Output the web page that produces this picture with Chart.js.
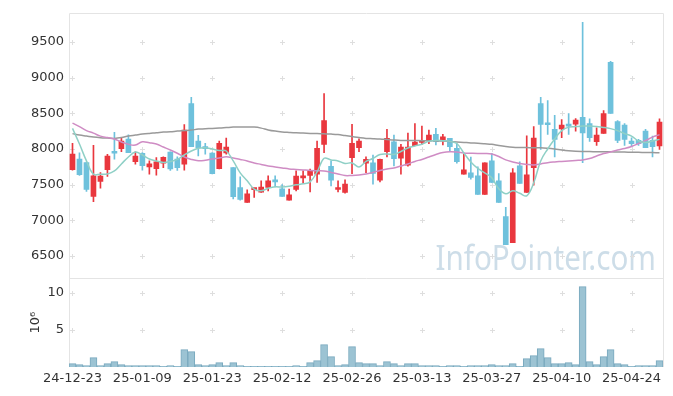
<!DOCTYPE html>
<html>
<head>
<meta charset="utf-8">
<title>Price Chart</title>
<script src="https://cdn.jsdelivr.net/npm/chart.js@4.4.1/dist/chart.umd.min.js"></script>
<style>
    html, body { margin: 0; padding: 0; background: #ffffff; }
    #wrap { width: 673px; height: 396px; }
</style>
</head>
<body>
<div id="wrap"><canvas id="stockChart" width="673" height="396"></canvas></div>
<script>
// Chart data

const dates = [
    '24-12-23', '24-12-24', '24-12-26', '24-12-27', '24-12-30', '25-01-02', '25-01-03', '25-01-06', '25-01-07', '25-01-08',
    '25-01-09', '25-01-10', '25-01-13', '25-01-14', '25-01-15', '25-01-16', '25-01-17', '25-01-20', '25-01-21', '25-01-22',
    '25-01-23', '25-01-24', '25-01-31', '25-02-03', '25-02-04', '25-02-05', '25-02-06', '25-02-07', '25-02-10', '25-02-11',
    '25-02-12', '25-02-13', '25-02-14', '25-02-17', '25-02-18', '25-02-19', '25-02-20', '25-02-21', '25-02-24', '25-02-25',
    '25-02-26', '25-02-27', '25-02-28', '25-03-04', '25-03-05', '25-03-06', '25-03-07', '25-03-10', '25-03-11', '25-03-12',
    '25-03-13', '25-03-14', '25-03-17', '25-03-18', '25-03-19', '25-03-20', '25-03-21', '25-03-24', '25-03-25', '25-03-26',
    '25-03-27', '25-03-28', '25-03-31', '25-04-01', '25-04-02', '25-04-03', '25-04-04', '25-04-07', '25-04-08', '25-04-09',
    '25-04-10', '25-04-11', '25-04-14', '25-04-15', '25-04-16', '25-04-17', '25-04-18', '25-04-21', '25-04-22', '25-04-23',
    '25-04-24', '25-04-25', '25-04-28', '25-04-29', '25-04-30'
];

const opens = [
    7711, 7860, 7809, 7335, 7544, 7711, 7950, 8004, 8140, 7823,
    7940, 7749, 7725, 7800, 7958, 7860, 7787, 8637, 8112, 8015,
    7944, 7725, 7944, 7739, 7460, 7251, 7430, 7396, 7460, 7560,
    7442, 7284, 7432, 7596, 7628, 7647, 8066, 7758, 7432, 7390,
    7879, 8018, 7800, 7805, 7563, 7962, 8102, 7870, 7772, 8046,
    8093, 8112, 8205, 8130, 8149, 8010, 7647, 7665, 7623, 7363,
    7833, 7554, 7051, 6685, 7763, 7391, 7739, 8637, 8363, 8275,
    8283, 8350, 8349, 8446, 8358, 8102, 8219, 9214, 8386, 8335,
    8112, 8121, 8251, 8121, 8042
];

const highs = [
    8080, 7948, 7818, 8052, 7669, 7926, 8233, 8158, 8200, 7962,
    7950, 7833, 7879, 7890, 7960, 7890, 8344, 8725, 8191, 8080,
    7950, 8112, 8153, 7739, 7609, 7428, 7438, 7554, 7623, 7623,
    7502, 7438, 7693, 7693, 7717, 8112, 8777, 7833, 7554, 7567,
    8345, 8144, 7890, 7916, 7860, 8275, 8195, 8066, 8223, 8358,
    8321, 8265, 8289, 8205, 8150, 8074, 7926, 7888, 7749, 7805,
    7940, 7656, 7181, 7725, 7819, 8186, 8316, 8725, 8680, 8474,
    8414, 8498, 8428, 9776, 8423, 8297, 8540, 9228, 8400, 8358,
    8158, 8135, 8275, 8180, 8423
];

const lows = [
    7703, 7630, 7404, 7261, 7452, 7614, 7856, 7962, 7948, 7787,
    7703, 7647, 7633, 7739, 7700, 7700, 7703, 8032, 7902, 7926,
    7650, 7720, 7926, 7300, 7284, 7251, 7320, 7390, 7414, 7470,
    7335, 7284, 7414, 7522, 7400, 7530, 7948, 7484, 7400, 7382,
    7656, 7962, 7670, 7508, 7540, 7888, 7763, 7647, 7760, 8046,
    8066, 8074, 8056, 8056, 7972, 7800, 7647, 7577, 7363, 7363,
    7530, 7251, 6657, 6685, 7516, 7391, 7493, 7995, 8205, 7888,
    8158, 8205, 8251, 7809, 8107, 8052, 8219, 8498, 8088, 8052,
    8042, 8050, 8018, 7888, 7995
];

const closes = [
    7930, 7641, 7432, 7623, 7619, 7902, 7940, 8112, 7948, 7902,
    7767, 7791, 7819, 7884, 7720, 7740, 8265, 8032, 8018, 8005,
    7656, 8080, 8028, 7330, 7293, 7372, 7438, 7466, 7554, 7540,
    7335, 7358, 7619, 7623, 7693, 8010, 8400, 7563, 7460, 7507,
    8080, 8112, 7856, 7656, 7856, 8149, 7865, 8028, 8028, 8098,
    8112, 8195, 8102, 8172, 8032, 7823, 7707, 7600, 7363, 7805,
    7530, 7251, 6657, 7665, 7516, 7637, 8153, 8344, 8340, 8135,
    8335, 8321, 8405, 8227, 8158, 8195, 8498, 8498, 8121, 8135,
    8074, 8074, 8018, 8032, 8377
];

// moving averages (short / mid / long)
const maShort = [
    8289, 8070, 7833, 7647, 7647, 7651, 7693, 7791, 7888, 7958,
    7916, 7860, 7833, 7812, 7826, 7854, 7916, 7972, 8010, 8018,
    8000, 7979, 7972, 7833, 7665, 7554, 7438, 7414, 7449, 7470,
    7466, 7477, 7498, 7512, 7540, 7679, 7870, 7847, 7833, 7798,
    7805, 7749, 7826, 7867, 7923, 7930, 7923, 7965, 8014, 8042,
    8066, 8107, 8121, 8116, 8107, 8077, 7944, 7819, 7728, 7665,
    7596, 7442, 7372, 7414, 7379, 7344, 7526, 7833, 8000, 8140,
    8258, 8307, 8314, 8321, 8321, 8314, 8303, 8286, 8258, 8216,
    8181, 8112, 8091, 8112, 8135
];

const maMid = [
    8363, 8314, 8258, 8223, 8181, 8160, 8140, 8098, 8066, 8056,
    8102, 8088, 8070, 8028, 7986, 7940, 7888, 7854, 7835, 7842,
    7860, 7874, 7891, 7874, 7854, 7833, 7805, 7784, 7763, 7749,
    7735, 7721, 7714, 7707, 7700, 7696, 7693, 7672, 7651, 7628,
    7630, 7637, 7651, 7672, 7700, 7721, 7735, 7763, 7791, 7826,
    7854, 7888, 7923, 7951, 7962, 7958, 7944, 7940, 7937, 7937,
    7930, 7895, 7847, 7819, 7798, 7784, 7777, 7791, 7809, 7819,
    7826, 7833, 7840, 7847, 7867, 7902, 7937, 7958, 7986, 8007,
    8035, 8077, 8119, 8167, 8202
];

const maLong = [
    8216, 8195, 8181, 8167, 8158, 8153, 8149, 8160, 8181, 8195,
    8209, 8219, 8227, 8237, 8241, 8251, 8258, 8265, 8279, 8283,
    8289, 8293, 8300, 8307, 8307, 8307, 8307, 8293, 8268, 8251,
    8240, 8233, 8227, 8223, 8219, 8216, 8213, 8209, 8202, 8188,
    8174, 8160, 8149, 8145, 8140, 8133, 8126, 8121, 8120, 8119,
    8117, 8116, 8114, 8112, 8107, 8100, 8093, 8086, 8081, 8074,
    8066, 8049, 8035, 8025, 8021, 8020, 8018, 8018, 8011, 8000,
    7986, 7975, 7968, 7965, 7964, 7962, 7961, 7960, 7958, 7957,
    7955, 7954, 7951, 7950, 7948
];

// volume in millions of shares
const volumes = [
    0.45, 0.32, 0.18, 1.26, 0.18, 0.45, 0.72, 0.32, 0.20, 0.20,
    0.20, 0.20, 0.20, 0.08, 0.20, 0.08, 2.34, 2.07, 0.32, 0.20,
    0.32, 0.59, 0.20, 0.59, 0.20, 0.08, 0.08, 0.08, 0.08, 0.08,
    0.08, 0.08, 0.18, 0.08, 0.59, 0.86, 3.00, 1.40, 0.18, 0.32,
    2.74, 0.59, 0.45, 0.45, 0.18, 0.72, 0.45, 0.18, 0.45, 0.45,
    0.18, 0.18, 0.18, 0.08, 0.18, 0.18, 0.08, 0.18, 0.18, 0.18,
    0.32, 0.18, 0.18, 0.45, 0.08, 1.13, 1.53, 2.47, 1.26, 0.45,
    0.45, 0.59, 0.32, 10.80, 0.72, 0.32, 1.40, 2.34, 0.45, 0.32,
    0.08, 0.18, 0.18, 0.18, 0.86
];

const priceTicks = [6500, 7000, 7500, 8000, 8500, 9000, 9500];
const volumeTicks = [5, 10];

// Colours
const UP_COLOR = '#e9373e';
const DOWN_COLOR = '#6ec1dc';
const FRAME_COLOR = '#e4e4e4';
const FONT = 'DejaVu Sans';

const candleColors = opens.map((o, i) => closes[i] > o ? UP_COLOR : DOWN_COLOR);

// Light "+" marks at the grid crossings, panel frame, watermark and 10^6 title
const chartDecor = {
    id: 'chartDecor',
    beforeDatasetsDraw(chart) {
        const ctx = chart.ctx;
        const area = chart.chartArea;
        const xs = chart.scales.x;
        const yp = chart.scales.y;
        const yv = chart.scales.yv;

        ctx.save();

        // watermark (slightly narrowed to match the original lettering)
        ctx.save();
        ctx.translate(area.right - 7, yp.bottom - 8);
        ctx.scale(0.87, 1);
        ctx.fillStyle = 'rgba(178, 203, 220, 0.65)';
        ctx.font = '34px "Noto Sans"';
        ctx.textAlign = 'right';
        ctx.textBaseline = 'alphabetic';
        ctx.fillText('InfoPointer.com', 0, 0);
        ctx.restore();

        // frame
        ctx.strokeStyle = FRAME_COLOR;
        ctx.lineWidth = 1;
        ctx.beginPath();
        ctx.moveTo(Math.round(area.left) + 0.5, Math.round(area.bottom));
        ctx.lineTo(Math.round(area.left) + 0.5, Math.round(area.top) + 0.5);
        ctx.lineTo(Math.round(area.right) + 0.5, Math.round(area.top) + 0.5);
        ctx.lineTo(Math.round(area.right) + 0.5, Math.round(area.bottom));
        ctx.moveTo(Math.round(area.left), Math.round(yp.bottom) + 0.5);
        ctx.lineTo(Math.round(area.right) + 1, Math.round(yp.bottom) + 0.5);
        ctx.stroke();

        // crosses
        ctx.strokeStyle = '#dedede';
        ctx.beginPath();
        ['y', 'yv'].forEach(id => {
            const s = chart.scales[id];
            s.ticks.forEach((t, ti) => {
                const py = Math.round(s.getPixelForTick(ti)) + 0.5;
                xs.ticks.forEach((xt, xi) => {
                    if (xt.value % 10 !== 0) return;
                    const px = Math.round(xs.getPixelForTick(xi)) + 0.5;
                    ctx.moveTo(px - 2.5, py);
                    ctx.lineTo(px + 2.5, py);
                    ctx.moveTo(px, py - 2.5);
                    ctx.lineTo(px, py + 2.5);
                });
            });
        });
        ctx.stroke();

        // volume axis title
        ctx.translate(36, (yv.top + yv.bottom) / 2);
        ctx.rotate(-Math.PI / 2);
        ctx.fillStyle = '#333';
        ctx.textAlign = 'center';
        ctx.textBaseline = 'middle';
        ctx.font = '13px "' + FONT + '"';
        ctx.fillText('10\u2076', 0, 0);

        ctx.restore();
    }
};

const ctx = document.getElementById('stockChart').getContext('2d');

new Chart(ctx, {
    data: {
        labels: dates,
        datasets: [
            {
                type: 'line',
                data: maShort,
                yAxisID: 'y',
                borderColor: '#8fd0c6',
                borderWidth: 1.5,
                pointRadius: 0,
                tension: 0.4,
                order: 0
            },
            {
                type: 'line',
                data: maMid,
                yAxisID: 'y',
                borderColor: '#cf8cc4',
                borderWidth: 1.5,
                pointRadius: 0,
                tension: 0.4,
                order: 0
            },
            {
                type: 'line',
                data: maLong,
                yAxisID: 'y',
                borderColor: '#9a9a9a',
                borderWidth: 1.5,
                pointRadius: 0,
                tension: 0.4,
                order: 0
            },
            {
                // wicks
                type: 'bar',
                data: lows.map((l, i) => [l, highs[i]]),
                yAxisID: 'y',
                backgroundColor: candleColors,
                barThickness: 1,
                grouped: false,
                order: 2
            },
            {
                // bodies
                type: 'bar',
                data: opens.map((o, i) => [o, closes[i]]),
                yAxisID: 'y',
                backgroundColor: candleColors,
                barThickness: 5,
                minBarLength: 2,
                grouped: false,
                order: 1
            },
            {
                type: 'bar',
                data: volumes,
                yAxisID: 'yv',
                backgroundColor: '#9cc3d3',
                borderColor: '#79a9be',
                borderWidth: 1,
                barPercentage: 1,
                categoryPercentage: 1,
                grouped: false,
                order: 3
            }
        ]
    },
    options: {
        responsive: false,
        animation: false,
        devicePixelRatio: 1,
        layout: { padding: { top: 10, right: 10, left: 0, bottom: 0 } },
        plugins: {
            legend: { display: false },
            tooltip: { enabled: false }
        },
        scales: {
            x: {
                type: 'category',
                offset: true,
                grid: { display: false, drawTicks: false },
                border: { display: false },
                ticks: {
                    autoSkip: false,
                    maxRotation: 0,
                    padding: 4,
                    color: '#333',
                    font: { family: FONT, size: 13 },
                    callback: (v, i) => i % 10 === 0 ? dates[i] : ''
                },
                afterFit: s => { s.height = 29; }
            },
            // volume panel (listed first so it sits at the bottom of the stack)
            yv: {
                type: 'linear',
                position: 'left',
                stack: 'panels',
                stackWeight: 89,
                min: 0,
                max: 11.9,
                grid: { display: false, drawTicks: false },
                border: { display: false },
                ticks: {
                    padding: 5,
                    color: '#333',
                    font: { family: FONT, size: 13 },
                    callback: v => String(v)
                },
                afterBuildTicks: s => { s.ticks = volumeTicks.map(v => ({ value: v })); },
                afterFit: s => { s.width = 69; }
            },
            y: {
                type: 'linear',
                position: 'left',
                stack: 'panels',
                stackWeight: 267,
                min: 6185,
                max: 9910,
                grid: { display: false, drawTicks: false },
                border: { display: false },
                ticks: {
                    padding: 5,
                    color: '#333',
                    font: { family: FONT, size: 13 },
                    callback: v => String(v)
                },
                afterBuildTicks: s => { s.ticks = priceTicks.map(v => ({ value: v })); },
                afterFit: s => { s.width = 69; }
            }
        }
    },
    plugins: [chartDecor]
});
</script>
</body>
</html>
